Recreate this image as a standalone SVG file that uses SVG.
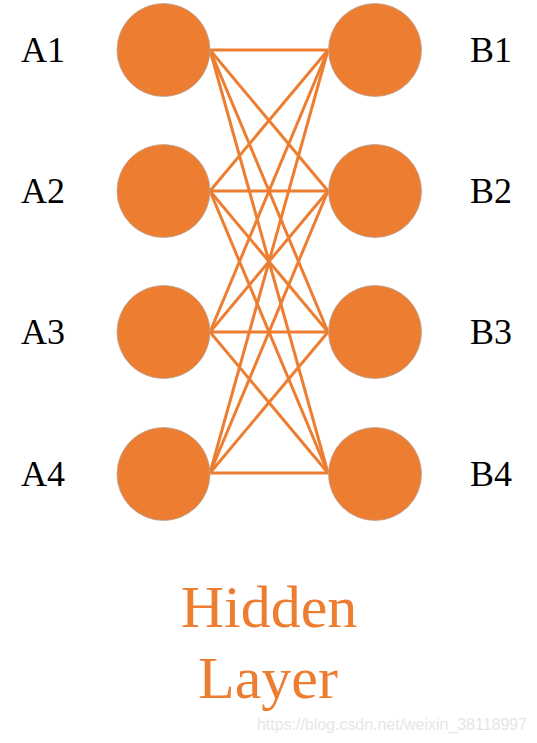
<svg xmlns="http://www.w3.org/2000/svg" width="537" height="743" viewBox="0 0 537 743">
<style>
.n{fill:#ED7D31;stroke:#b8a69a;stroke-width:0.8}
.e{stroke:#ED7D31;stroke-width:3;fill:none}
.lbl{font-family:"Liberation Serif","Times New Roman",serif;font-size:36px;fill:#000}
.t{font-family:"Liberation Serif","Times New Roman",serif;font-size:60px;fill:#ED7D31;text-anchor:middle}
.w{font-family:"Liberation Sans",Arial,sans-serif;font-size:16px;fill:#e6e6e6}
</style>
<rect width="537" height="743" fill="#fff"/>
<g id="connectors">
<line class="e" x1="210" y1="50" x2="328" y2="50"/>
<line class="e" x1="210" y1="50" x2="328" y2="191"/>
<line class="e" x1="210" y1="50" x2="328" y2="332"/>
<line class="e" x1="210" y1="50" x2="328" y2="473"/>
<line class="e" x1="210" y1="191" x2="328" y2="50"/>
<line class="e" x1="210" y1="191" x2="328" y2="191"/>
<line class="e" x1="210" y1="191" x2="328" y2="332"/>
<line class="e" x1="210" y1="191" x2="328" y2="473"/>
<line class="e" x1="210" y1="332" x2="328" y2="50"/>
<line class="e" x1="210" y1="332" x2="328" y2="191"/>
<line class="e" x1="210" y1="332" x2="328" y2="332"/>
<line class="e" x1="210" y1="332" x2="328" y2="473"/>
<line class="e" x1="210" y1="473" x2="328" y2="50"/>
<line class="e" x1="210" y1="473" x2="328" y2="191"/>
<line class="e" x1="210" y1="473" x2="328" y2="332"/>
<line class="e" x1="210" y1="473" x2="328" y2="473"/>
</g>
<g id="A1"><circle class="n" cx="163.5" cy="50" r="46.5"/><text class="lbl" x="21" y="62">A1</text></g>
<g id="A2"><circle class="n" cx="163.5" cy="191" r="46.5"/><text class="lbl" x="21" y="203">A2</text></g>
<g id="A3"><circle class="n" cx="163.5" cy="332" r="46.5"/><text class="lbl" x="21" y="344">A3</text></g>
<g id="A4"><circle class="n" cx="163.5" cy="474" r="46.5"/><text class="lbl" x="21" y="486">A4</text></g>
<g id="B1"><circle class="n" cx="375" cy="50" r="46.5"/><text class="lbl" x="470" y="62">B1</text></g>
<g id="B2"><circle class="n" cx="375" cy="191" r="46.5"/><text class="lbl" x="470" y="203">B2</text></g>
<g id="B3"><circle class="n" cx="375" cy="332" r="46.5"/><text class="lbl" x="470" y="344">B3</text></g>
<g id="B4"><circle class="n" cx="375" cy="474" r="46.5"/><text class="lbl" x="470" y="486">B4</text></g>
<g id="title">
<text class="t" x="269" y="627">Hidden</text>
<text class="t" x="268" y="698">Layer</text>
</g>
<text class="w" x="257" y="730" textLength="270" lengthAdjust="spacingAndGlyphs">https://blog.csdn.net/weixin_38118997</text>
</svg>
